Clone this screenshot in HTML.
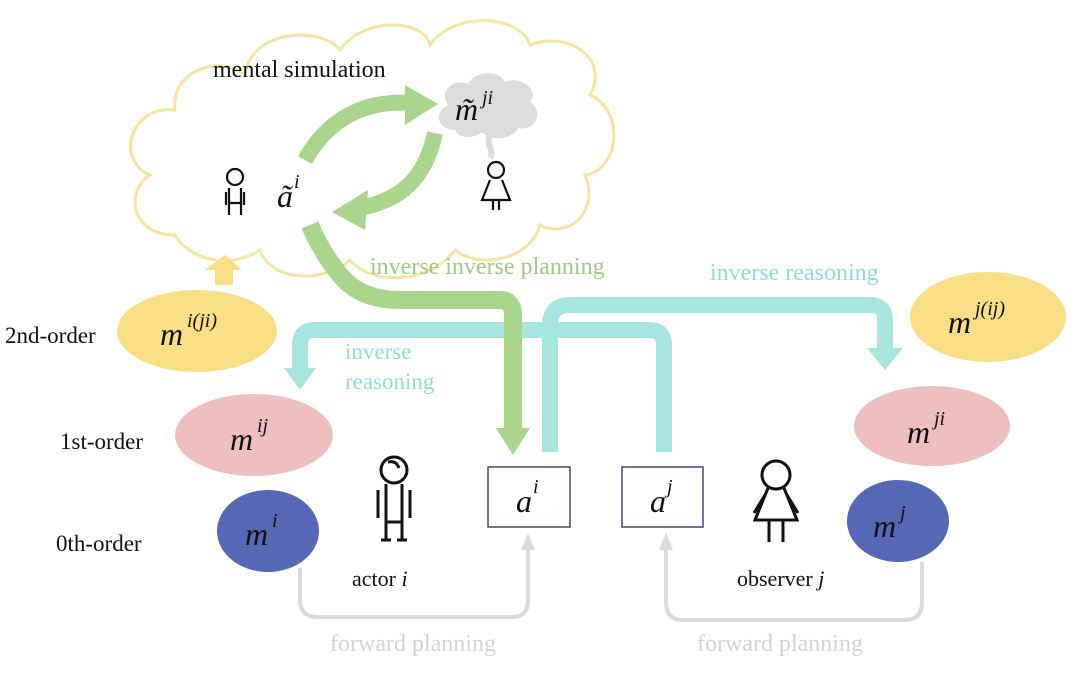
<!DOCTYPE html>
<html><head><meta charset="utf-8"><style>
html,body{margin:0;padding:0;background:#fff;}
svg{display:block;}
text{font-family:"Liberation Serif",serif;}
.m{font-style:italic;font-size:32px;fill:#111;}
.s{font-style:italic;font-size:20px;fill:#111;}
</style></head><body>
<svg width="1080" height="678" viewBox="0 0 1080 678" xmlns="http://www.w3.org/2000/svg">
<!-- big cloud -->
<path d="M175,235 C130,235 125,190 150,175 C115,160 130,105 175,110 C170,70 220,55 245,75 C250,30 320,25 340,50 C365,15 425,20 430,45 C455,10 520,15 530,45 C570,30 610,60 590,95 C625,110 620,170 585,175 C600,210 570,240 540,225 C530,260 480,270 455,250 C430,285 370,285 350,260 C320,285 270,280 260,250 C230,270 190,260 175,235 Z" fill="#fff" stroke="#f7e4a0" stroke-width="3"/>
<text x="213" y="77" font-size="24" fill="#111">mental simulation</text>
<!-- gray thought cloud -->
<path d="M455,130 C435,130 435,110 448,105 C438,90 455,78 468,84 C475,70 500,70 505,82 C520,75 540,90 530,102 C545,112 535,132 518,128 C512,140 490,142 482,132 C472,140 458,138 455,130 Z" fill="#dcdcdc"/>
<path d="M490,135 C485,145 495,150 490,158" stroke="#dcdcdc" stroke-width="6" fill="none"/>
<text x="455" y="120" class="m">m̃</text><text x="482" y="104" class="s" font-size="18">ji</text>
<!-- green inner arrows -->
<path d="M305,160 C330,115 370,100 410,103" stroke="#a9d68c" stroke-width="16" fill="none"/>
<path d="M405,85 L438,104 L405,125 Z" fill="#a9d68c"/>
<path d="M435,133 C425,180 400,200 360,208" stroke="#a9d68c" stroke-width="16" fill="none"/>
<path d="M368,190 L332,212 L365,230 Z" fill="#a9d68c"/>
<!-- small figures in cloud -->
<g stroke="#111" stroke-width="2.2" fill="none">
<circle cx="235" cy="177" r="8"/>
<path d="M229,188 L229,215 M241,188 L241,215 M229,203 L241,203 M226,192 L226,205 M244,192 L244,205"/>
<circle cx="496" cy="170" r="8"/>
<path d="M490,180 L482,200 L510,200 L502,180 M493,200 L493,210 M499,200 L499,210"/>
</g>
<text x="277" y="207" class="m">ã</text><text x="294" y="188" class="s">i</text>
<!-- yellow small arrow -->
<path d="M215,285 L215,270 L205,270 L225,255 L242,270 L233,270 L233,285 Z" fill="#f8de84"/>
<!-- ellipses -->
<ellipse cx="197" cy="331" rx="80" ry="41" fill="#f8de84"/>
<ellipse cx="254" cy="435" rx="79" ry="41" fill="#eebfbf"/>
<ellipse cx="268" cy="531" rx="51" ry="41" fill="#5567b5"/>
<ellipse cx="988" cy="317" rx="78" ry="45" fill="#f8de84"/>
<ellipse cx="932" cy="426" rx="78" ry="40" fill="#eebfbf"/>
<ellipse cx="898" cy="521" rx="51" ry="41" fill="#5567b5"/>
<text x="160" y="345" class="m">m</text><text x="187" y="327" class="s">i(ji)</text>
<text x="230" y="450" class="m">m</text><text x="257" y="432" class="s">ij</text>
<text x="245" y="545" class="m">m</text><text x="272" y="527" class="s">i</text>
<text x="948" y="333" class="m">m</text><text x="975" y="315" class="s">j(ij)</text>
<text x="907" y="443" class="m">m</text><text x="934" y="425" class="s">ji</text>
<text x="873" y="537" class="m">m</text><text x="900" y="519" class="s">j</text>
<text x="5" y="343" font-size="23" fill="#111">2nd-order</text>
<text x="60" y="449" font-size="23" fill="#111">1st-order</text>
<text x="56" y="551" font-size="23" fill="#111">0th-order</text>
<!-- cyan arrows -->
<path d="M664,452 L664,345 Q664,330 649,330 L315,330 Q300,330 300,345 L300,372" stroke="#a7e5df" stroke-width="16" fill="none"/>
<path d="M284,368 L316,368 L300,390 Z" fill="#a7e5df"/>
<path d="M550,452 L550,325 Q550,305 570,305 L870,305 Q885,305 885,320 L885,350" stroke="#a7e5df" stroke-width="16" fill="none"/>
<path d="M867,348 L903,348 L885,370 Z" fill="#a7e5df"/>
<!-- green big arrow -->
<path d="M310,225 Q320,250 340,275 Q360,300 400,300 L500,300 Q513,300 513,315 L513,430" stroke="#a9d68c" stroke-width="18" fill="none"/>
<path d="M496,428 L530,428 L513,455 Z" fill="#a9d68c"/>
<text x="370" y="274" font-size="24" fill="#9ccb82">inverse inverse planning</text>
<text x="710" y="280" font-size="24" fill="#8fdcd6">inverse reasoning</text>
<text x="345" y="359" font-size="23" fill="#8fdcd6">inverse</text>
<text x="345" y="389" font-size="23" fill="#8fdcd6">reasoning</text>
<!-- boxes -->
<rect x="488" y="467" width="82" height="60" fill="#fff" stroke="#3b4a78" stroke-width="1.5"/>
<rect x="622" y="467" width="81" height="60" fill="#fff" stroke="#3b4a78" stroke-width="1.5"/>
<text x="516" y="512" class="m">a</text><text x="533" y="493" class="s">i</text>
<text x="650" y="512" class="m">a</text><text x="667" y="493" class="s">j</text>
<!-- figures -->
<g stroke="#111" stroke-width="3" fill="none">
<circle cx="394" cy="470" r="13"/>
<path d="M388,462 Q396,460 399,468"/>
<path d="M386,484 L386,540 M402,484 L402,540 M386,522 L402,522 M378,490 L378,518 M410,490 L410,518 M381,540 L391,540 M397,540 L407,540"/>
<circle cx="776" cy="475" r="14"/>
<path d="M768,488 L755,520 L797,520 L784,488 M769,520 L769,542 M783,520 L783,542 M765,495 L754,513 M787,495 L798,513"/>
</g>
<text x="352" y="586" font-size="22" fill="#111">actor <tspan font-style="italic">i</tspan></text>
<text x="737" y="586" font-size="22" fill="#111">observer <tspan font-style="italic">j</tspan></text>
<!-- gray forward arrows -->
<path d="M300,568 L300,600 Q300,617 318,617 L512,617 Q528,617 528,600 L528,548" stroke="#dadada" stroke-width="4" fill="none"/>
<path d="M521,550 L535,550 L528,533 Z" fill="#dadada"/>
<path d="M922,562 L922,602 Q922,620 905,620 L683,620 Q666,620 666,602 L666,548" stroke="#dadada" stroke-width="4" fill="none"/>
<path d="M659,550 L673,550 L666,533 Z" fill="#dadada"/>
<text x="330" y="651" font-size="24" fill="#d4d4d4">forward planning</text>
<text x="697" y="651" font-size="24" fill="#d4d4d4">forward planning</text>
</svg>
</body></html>
